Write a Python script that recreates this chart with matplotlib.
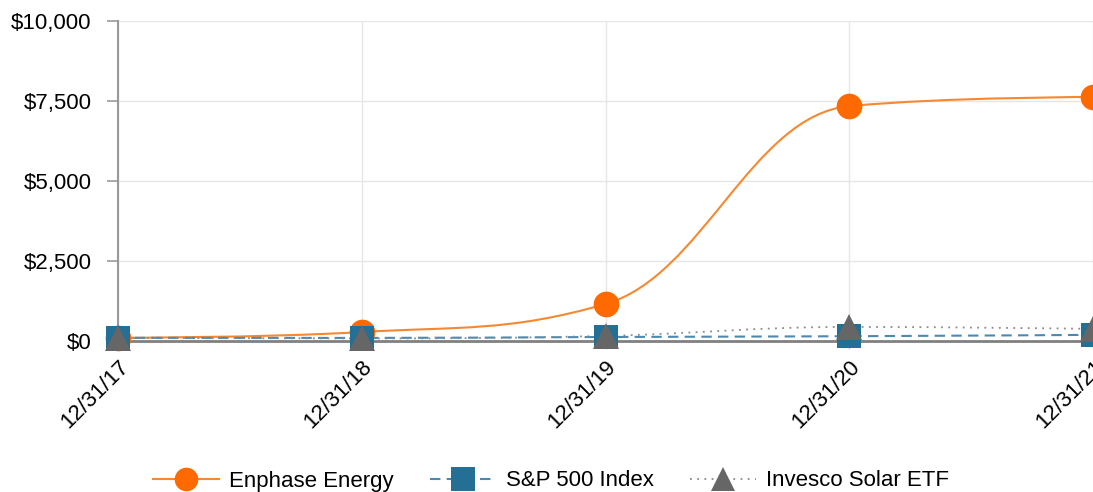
import matplotlib.pyplot as plt
import numpy as np
from matplotlib.path import Path
from matplotlib.patches import PathPatch
from matplotlib.lines import Line2D
from matplotlib.ticker import FuncFormatter

plt.rcParams['font.family'] = ['Liberation Sans', 'DejaVu Sans']

dates = ["12/31/17", "12/31/18", "12/31/19", "12/31/20", "12/31/21"]
enphase = [100, 280, 1155, 7340, 7625]
sp500 = [100, 96, 126, 149, 192]
solar = [100, 80, 160, 440, 380]


def spline_path(xs, ys, smoothing=1.5):
    # Highcharts-style spline control points
    n = len(xs)
    denom = smoothing + 1
    left = [None] * n
    right = [None] * n
    for i in range(n):
        x, y = xs[i], ys[i]
        if i == 0 or i == n - 1:
            left[i] = (x, y)
            right[i] = (x, y)
            continue
        lx, ly = xs[i - 1], ys[i - 1]
        nx, ny = xs[i + 1], ys[i + 1]
        lcx = (smoothing * x + lx) / denom
        lcy = (smoothing * y + ly) / denom
        rcx = (smoothing * x + nx) / denom
        rcy = (smoothing * y + ny) / denom
        if rcx != lcx:
            corr = ((rcy - lcy) * (rcx - x)) / (rcx - lcx) + y - rcy
            lcy += corr
            rcy += corr
        if lcy > max(ly, y):
            lcy = max(ly, y)
            rcy = 2 * y - lcy
        elif lcy < min(ly, y):
            lcy = min(ly, y)
            rcy = 2 * y - lcy
        if rcy > max(ny, y):
            rcy = max(ny, y)
            lcy = 2 * y - rcy
        elif rcy < min(ny, y):
            rcy = min(ny, y)
            lcy = 2 * y - rcy
        left[i] = (lcx, lcy)
        right[i] = (rcx, rcy)
    verts = [(xs[0], ys[0])]
    codes = [Path.MOVETO]
    for i in range(1, n):
        verts += [right[i - 1], left[i], (xs[i], ys[i])]
        codes += [Path.CURVE4] * 3
    return Path(verts, codes)


fig = plt.figure(figsize=(10.93, 4.92), dpi=100)
ax = fig.add_axes([118 / 1093, 1 - 341 / 492, 1 - 118 / 1093, 320 / 492])

x = np.arange(len(dates))

series = [
    (enphase, '#f7882f', '-', 'o', '#ff6a00', 'Enphase Energy', 1.5),
    (sp500, '#4a8ab0', (0, (5, 3)), 's', '#236f96', 'S&P 500 Index', 1.5),
    (solar, '#8a8a8a', (0, (1, 3)), '^', '#666666', 'Invesco Solar ETF', 1.3),
]

handles = []
for k, (vals, lc, ls, mk, mc, name, lw) in enumerate(series):
    p = spline_path(list(x.astype(float)), list(map(float, vals)))
    ax.add_patch(PathPatch(p, facecolor='none', edgecolor=lc, lw=lw,
                           linestyle=ls, zorder=3 + k, clip_on=False))
    ax.plot(x, vals, linestyle='none', marker=mk,
            markersize={'o': 18.5, 's': 17, '^': 19}[mk],
            color=mc, markeredgewidth=0, zorder=6 + k, clip_on=False)
    handles.append(Line2D([], [], color=lc, linestyle=ls, lw=lw, marker=mk,
                          markersize=17, markerfacecolor=mc, markeredgewidth=0))

ax.set_xlim(0, 4)
ax.set_ylim(0, 10000)
ax.set_yticks([0, 2500, 5000, 7500, 10000])
ax.yaxis.set_major_formatter(FuncFormatter(lambda v, p: "${:,.0f}".format(v)))
ax.set_xticks(x)
ax.set_xticklabels(dates, rotation=45, ha='right', rotation_mode='anchor')

ax.grid(True, color='#e6e6e6', lw=1)
ax.set_axisbelow(True)
for s in ['top', 'right']:
    ax.spines[s].set_visible(False)
ax.spines['left'].set_color('#999999')
ax.spines['left'].set_linewidth(1.5)
ax.spines['bottom'].set_color('#808080')
ax.spines['bottom'].set_linewidth(2)
ax.spines['bottom'].set_zorder(2.5)
ax.tick_params(axis='y', length=8, width=1.2, color='#999999', labelsize=16, pad=11)
ax.tick_params(axis='x', length=6, width=1, color='#cccccc', labelsize=16, pad=5)

fig.legend(handles=handles, labels=[s[5] for s in series], loc='center',
           bbox_to_anchor=(551 / 1093, 1 - 481 / 492), ncol=3, frameon=False,
           fontsize=16, handlelength=3.0, columnspacing=1.6, handletextpad=0.45)

fig.savefig('out.png', dpi=100)
